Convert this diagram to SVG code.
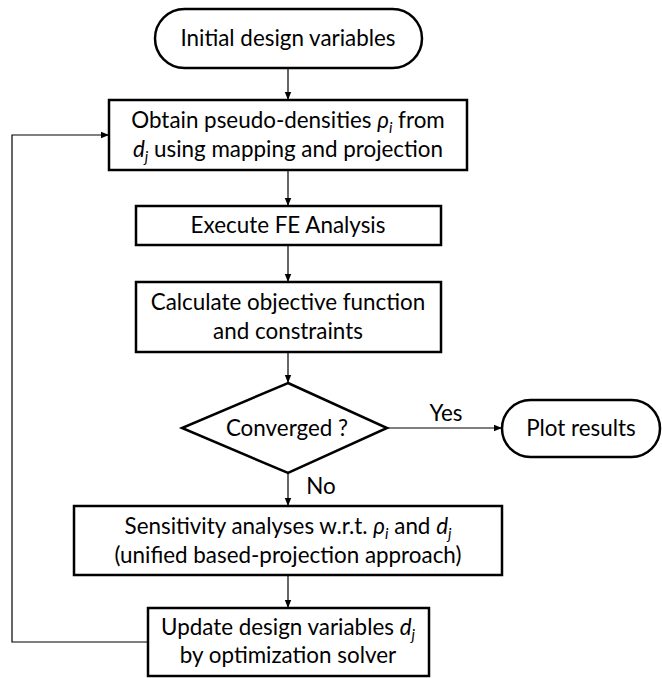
<svg xmlns="http://www.w3.org/2000/svg" width="662" height="678" viewBox="0 0 662 678">
<style>
.node{fill:#fff;stroke:#000;stroke-width:2.5}
.t{font-family:Lato,"Open Sans",sans-serif;font-size:22.4px;fill:#000;text-anchor:middle}
.it{font-style:italic}
.sub{font-size:15px;font-style:italic}
.c{fill:none;stroke:#000;stroke-width:1.2}
</style>
<defs>
<marker id="ah" viewBox="0 0 10 10" refX="10" refY="5" markerWidth="8" markerHeight="8" markerUnits="userSpaceOnUse" orient="auto">
<path d="M0,1 L10,5 L0,9 z" fill="#000"/>
</marker>
</defs>
<g id="connectors">
<path class="c" d="M288,68 V100" marker-end="url(#ah)"/>
<path class="c" d="M288,171 V206" marker-end="url(#ah)"/>
<path class="c" d="M288,246 V282" marker-end="url(#ah)"/>
<path class="c" d="M288,353 V383" marker-end="url(#ah)"/>
<path class="c" d="M387,428 H502" marker-end="url(#ah)"/>
<path class="c" d="M288,473 V506" marker-end="url(#ah)"/>
<path class="c" d="M288,576 V608" marker-end="url(#ah)"/>
<path class="c" d="M148,642 H12 V135 H109" marker-end="url(#ah)"/>
<text class="t" x="446" y="421">Yes</text>
<text class="t" x="321" y="494">No</text>
</g>
<g id="start">
<rect class="node" x="155" y="9" width="267" height="59" rx="29.5"/>
<text class="t" x="288" y="46">Initial design variables</text>
</g>
<g id="obtain">
<rect class="node" x="109" y="100" width="358" height="70"/>
<text class="t" x="288" y="128">Obtain pseudo-densities <tspan class="it">ρ</tspan><tspan class="sub" dy="5">i</tspan><tspan dy="-5"> from</tspan></text>
<text class="t" x="288" y="157"><tspan class="it">d</tspan><tspan class="sub" dy="5">j</tspan><tspan dy="-5"> using mapping and projection</tspan></text>
</g>
<g id="fe">
<rect class="node" x="136" y="206" width="305" height="39"/>
<text class="t" x="288" y="233">Execute FE Analysis</text>
</g>
<g id="objective">
<rect class="node" x="136" y="282" width="305" height="70"/>
<text class="t" x="288" y="310">Calculate objective function</text>
<text class="t" x="288" y="339">and constraints</text>
</g>
<g id="converged">
<polygon class="node" points="288,383 387,428 288,473 182,428"/>
<text class="t" x="287" y="436">Converged ?</text>
</g>
<g id="plot">
<rect class="node" x="502" y="400" width="158" height="57" rx="28.5"/>
<text class="t" x="581" y="436">Plot results</text>
</g>
<g id="sensitivity">
<rect class="node" x="74" y="506" width="428" height="69"/>
<text class="t" x="288" y="534">Sensitivity analyses w.r.t. <tspan class="it">ρ</tspan><tspan class="sub" dy="5">i</tspan><tspan dy="-5"> and </tspan><tspan class="it">d</tspan><tspan class="sub" dy="5">j</tspan></text>
<text class="t" x="288" y="563">(unified based-projection approach)</text>
</g>
<g id="update">
<rect class="node" x="148" y="608" width="281" height="68"/>
<text class="t" x="288" y="635">Update design variables <tspan class="it">d</tspan><tspan class="sub" dy="5">j</tspan></text>
<text class="t" x="288" y="663">by optimization solver</text>
</g>
</svg>
